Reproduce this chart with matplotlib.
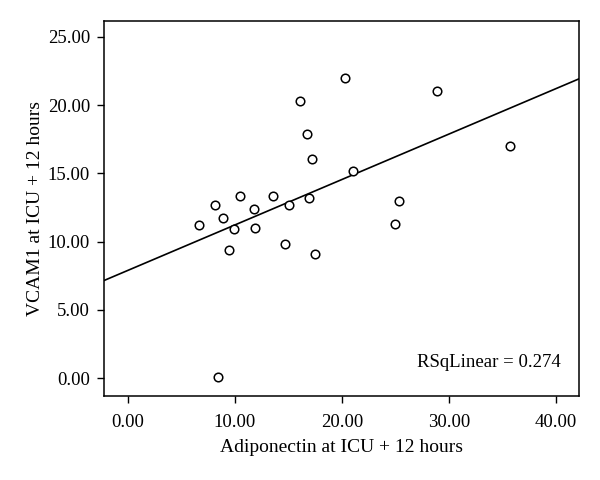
import numpy as np
import matplotlib
matplotlib.use("Agg")
import matplotlib.pyplot as plt

adiponectin = [20.28, 16.05, 16.73, 17.17, 8.13, 10.53, 13.55, 11.84, 15.08, 16.89,
               8.88, 6.64, 9.97, 11.93, 9.47, 14.74, 17.54, 8.41, 28.92, 35.70,
               21.03, 25.36, 24.95]
vcam1 = [22.0, 20.26, 17.85, 16.04, 12.70, 13.31, 13.31, 12.41, 12.68, 13.17,
         11.70, 11.21, 10.92, 11.02, 9.39, 9.80, 9.09, 0.1, 21.02, 17.02,
         15.19, 12.99, 11.31]
xticks = [0, 10, 20, 30, 40]
yticks = [0, 5, 10, 15, 20, 25]
r2_label = "RSqLinear = 0.274"

plt.rcParams['font.family'] = ['Liberation Serif', 'DejaVu Serif']
fig = plt.figure(figsize=(6, 4.8), dpi=100)
ax = fig.add_axes([0.1733, 0.175, 0.7922, 0.781])

x = np.array(adiponectin)
y = np.array(vcam1)
ax.scatter(x, y, s=38, facecolors='white', edgecolors='black', linewidths=1.1, zorder=3)

xlim = (-2.2, 42.16)
ylim = (-1.3, 26.14)
slope, intercept = np.polyfit(x, y, 1)
xs = np.array(xlim)
ax.plot(xs, intercept + slope * xs, color='black', lw=1.2, zorder=2)

ax.set_xlim(*xlim)
ax.set_ylim(*ylim)
ax.set_xticks(xticks)
ax.set_yticks(yticks)
ax.set_xticklabels([f"{v:.2f}" for v in xticks])
ax.set_yticklabels([f"{v:.2f}" for v in yticks])
ax.tick_params(direction='out', length=5, width=1, labelsize=13.5, colors='black')
ax.tick_params(axis='x', pad=8)
ax.tick_params(axis='y', pad=5)
for s in ax.spines.values():
    s.set_linewidth(1.1)
ax.set_xlabel("Adiponectin at ICU + 12 hours", fontsize=14, labelpad=6)
ax.set_ylabel("VCAM1 at ICU + 12 hours", fontsize=14, labelpad=3)
ax.text(0.96, 0.09, r2_label, transform=ax.transAxes, ha='right', va='center', fontsize=13.5)

fig.savefig("out.png", dpi=100)
